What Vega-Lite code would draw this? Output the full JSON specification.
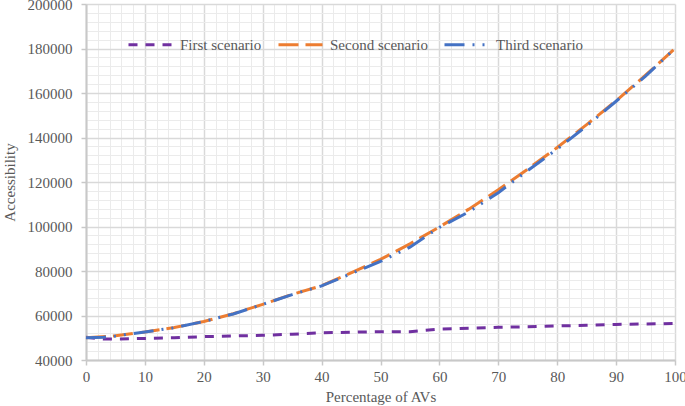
{
  "$schema": "https://vega.github.io/schema/vega-lite/v6.json",
  "width": 589,
  "height": 356,
  "autosize": {"type": "none"},
  "padding": {"left": 86, "top": 4, "right": 10, "bottom": 46},
  "background": "white",
  "data": {
    "values": [
      {"pct": 0, "scenario": "First scenario", "value": 50200},
      {"pct": 3, "scenario": "First scenario", "value": 49400},
      {"pct": 5, "scenario": "First scenario", "value": 49400},
      {"pct": 10, "scenario": "First scenario", "value": 49700},
      {"pct": 15, "scenario": "First scenario", "value": 50000},
      {"pct": 20, "scenario": "First scenario", "value": 50500},
      {"pct": 25, "scenario": "First scenario", "value": 50800},
      {"pct": 30, "scenario": "First scenario", "value": 51100},
      {"pct": 35, "scenario": "First scenario", "value": 51600},
      {"pct": 40, "scenario": "First scenario", "value": 52200},
      {"pct": 45, "scenario": "First scenario", "value": 52500},
      {"pct": 50, "scenario": "First scenario", "value": 52700},
      {"pct": 55, "scenario": "First scenario", "value": 52700},
      {"pct": 60, "scenario": "First scenario", "value": 53900},
      {"pct": 65, "scenario": "First scenario", "value": 54300},
      {"pct": 70, "scenario": "First scenario", "value": 54700},
      {"pct": 75, "scenario": "First scenario", "value": 54900},
      {"pct": 80, "scenario": "First scenario", "value": 55300},
      {"pct": 85, "scenario": "First scenario", "value": 55600},
      {"pct": 90, "scenario": "First scenario", "value": 56000},
      {"pct": 95, "scenario": "First scenario", "value": 56200},
      {"pct": 100, "scenario": "First scenario", "value": 56400},
      {"pct": 0, "scenario": "Second scenario", "value": 50000},
      {"pct": 5, "scenario": "Second scenario", "value": 50900},
      {"pct": 10, "scenario": "Second scenario", "value": 52600},
      {"pct": 15, "scenario": "Second scenario", "value": 54600},
      {"pct": 20, "scenario": "Second scenario", "value": 57300},
      {"pct": 25, "scenario": "Second scenario", "value": 60800},
      {"pct": 30, "scenario": "Second scenario", "value": 65000},
      {"pct": 35, "scenario": "Second scenario", "value": 69500},
      {"pct": 40, "scenario": "Second scenario", "value": 73400},
      {"pct": 45, "scenario": "Second scenario", "value": 79200},
      {"pct": 50, "scenario": "Second scenario", "value": 85200},
      {"pct": 55, "scenario": "Second scenario", "value": 92200},
      {"pct": 60, "scenario": "Second scenario", "value": 99800},
      {"pct": 65, "scenario": "Second scenario", "value": 107800},
      {"pct": 70, "scenario": "Second scenario", "value": 116500},
      {"pct": 75, "scenario": "Second scenario", "value": 125800},
      {"pct": 80, "scenario": "Second scenario", "value": 135500},
      {"pct": 85, "scenario": "Second scenario", "value": 145800},
      {"pct": 90, "scenario": "Second scenario", "value": 156500},
      {"pct": 95, "scenario": "Second scenario", "value": 168000},
      {"pct": 100, "scenario": "Second scenario", "value": 180000},
      {"pct": 0, "scenario": "Third scenario", "value": 50000},
      {"pct": 3, "scenario": "Third scenario", "value": 50200},
      {"pct": 5, "scenario": "Third scenario", "value": 50800},
      {"pct": 10, "scenario": "Third scenario", "value": 52600},
      {"pct": 15, "scenario": "Third scenario", "value": 54500},
      {"pct": 20, "scenario": "Third scenario", "value": 57300},
      {"pct": 25, "scenario": "Third scenario", "value": 60700},
      {"pct": 30, "scenario": "Third scenario", "value": 65000},
      {"pct": 35, "scenario": "Third scenario", "value": 69400},
      {"pct": 40, "scenario": "Third scenario", "value": 73300},
      {"pct": 45, "scenario": "Third scenario", "value": 78800},
      {"pct": 50, "scenario": "Third scenario", "value": 84300},
      {"pct": 55, "scenario": "Third scenario", "value": 90700},
      {"pct": 60, "scenario": "Third scenario", "value": 99600},
      {"pct": 65, "scenario": "Third scenario", "value": 106600},
      {"pct": 70, "scenario": "Third scenario", "value": 115200},
      {"pct": 75, "scenario": "Third scenario", "value": 125200},
      {"pct": 80, "scenario": "Third scenario", "value": 134800},
      {"pct": 85, "scenario": "Third scenario", "value": 145200},
      {"pct": 90, "scenario": "Third scenario", "value": 156300},
      {"pct": 95, "scenario": "Third scenario", "value": 167600},
      {"pct": 100, "scenario": "Third scenario", "value": 180000}
    ]
  },
  "layer": [
    {
      "mark": {"type": "point", "opacity": 0},
      "encoding": {
        "x": {
          "field": "pct",
          "type": "quantitative",
          "scale": {"domain": [0, 100], "nice": false},
          "axis": {
            "orient": "top",
            "title": null,
            "labels": false,
            "ticks": false,
            "domain": false,
            "grid": true,
            "gridColor": "#ebebeb",
            "gridWidth": 1,
            "values": [2, 4, 6, 8, 12, 14, 16, 18, 22, 24, 26, 28, 32, 34, 36, 38, 42, 44, 46, 48, 52, 54, 56, 58, 62, 64, 66, 68, 72, 74, 76, 78, 82, 84, 86, 88, 92, 94, 96, 98]
          }
        },
        "y": {
          "field": "value",
          "type": "quantitative",
          "scale": {"domain": [40000, 200000], "nice": false, "zero": false},
          "axis": {
            "orient": "right",
            "title": null,
            "labels": false,
            "ticks": false,
            "domain": false,
            "grid": true,
            "gridColor": "#ebebeb",
            "gridWidth": 1,
            "values": [44000, 48000, 52000, 56000, 64000, 68000, 72000, 76000, 84000, 88000, 92000, 96000, 104000, 108000, 112000, 116000, 124000, 128000, 132000, 136000, 144000, 148000, 152000, 156000, 164000, 168000, 172000, 176000, 184000, 188000, 192000, 196000]
          }
        }
      }
    },
    {
      "mark": {"type": "line", "strokeWidth": 3},
      "encoding": {
        "x": {
          "field": "pct",
          "type": "quantitative",
          "axis": {
            "orient": "bottom",
            "title": "Percentage of AVs",
            "values": [0, 10, 20, 30, 40, 50, 60, 70, 80, 90, 100],
            "labelFlush": false,
            "grid": true,
            "gridColor": "#d9d9d9",
            "gridWidth": 1.5,
            "domainColor": "#c8c8c8",
            "domainWidth": 2,
            "tickColor": "#c8c8c8",
            "tickSize": 5,
            "tickWidth": 1.5,
            "labelPadding": 4,
            "titlePadding": 5
          }
        },
        "y": {
          "field": "value",
          "type": "quantitative",
          "axis": {
            "orient": "left",
            "title": "Accessibility",
            "values": [40000, 60000, 80000, 100000, 120000, 140000, 160000, 180000, 200000],
            "format": "d",
            "grid": true,
            "gridColor": "#d9d9d9",
            "gridWidth": 1.5,
            "domainColor": "#c8c8c8",
            "domainWidth": 2,
            "tickColor": "#c8c8c8",
            "tickSize": 5,
            "tickWidth": 1.5,
            "labelPadding": 9,
            "titlePadding": 10
          }
        },
        "color": {
          "field": "scenario",
          "type": "nominal",
          "scale": {
            "domain": ["First scenario", "Second scenario", "Third scenario"],
            "range": ["#7030a0", "#ed7d31", "#4472c4"]
          },
          "legend": {
            "title": null,
            "orient": "none",
            "direction": "horizontal",
            "legendX": 41,
            "legendY": 17,
            "padding": 0,
            "symbolType": "stroke",
            "symbolSize": 1936,
            "symbolStrokeWidth": 3,
            "labelFont": "Liberation Serif",
            "labelFontSize": 15,
            "labelColor": "#595959",
            "labelOffset": 6,
            "columnPadding": 10
          }
        },
        "strokeDash": {
          "field": "scenario",
          "type": "nominal",
          "scale": {
            "domain": ["First scenario", "Second scenario", "Third scenario"],
            "range": [[9, 8], [20, 7], [20, 8, 2, 8, 2, 8]]
          },
          "legend": {
            "title": null,
            "orient": "none",
            "direction": "horizontal",
            "legendX": 41,
            "legendY": 17,
            "padding": 0,
            "symbolType": "stroke",
            "symbolSize": 1936,
            "symbolStrokeWidth": 3,
            "labelFont": "Liberation Serif",
            "labelFontSize": 15,
            "labelColor": "#595959",
            "labelOffset": 6,
            "columnPadding": 10
          }
        }
      }
    }
  ],
  "resolve": {"axis": {"x": "independent", "y": "independent"}},
  "config": {
    "view": {"stroke": null},
    "axis": {
      "labelFont": "Liberation Serif",
      "labelFontSize": 15,
      "labelColor": "#595959",
      "titleFont": "Liberation Serif",
      "titleFontSize": 15,
      "titleFontWeight": "normal",
      "titleColor": "#595959"
    }
  }
}
